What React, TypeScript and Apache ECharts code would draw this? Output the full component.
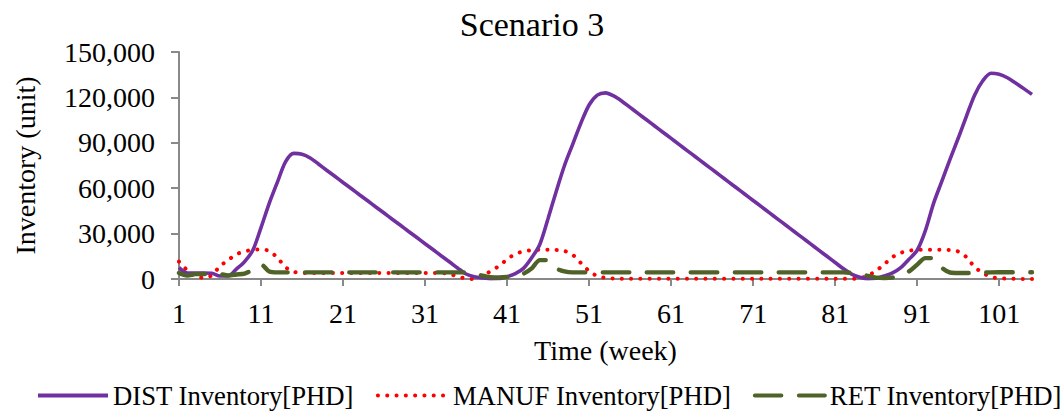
import React, { useEffect, useRef } from "react";
import * as echarts from "echarts";

// Week categories 1..105
const weeks: string[] = Array.from({ length: 105 }, (_, i) => String(i + 1));

// Values, in thousands of units
const distK: number[] = [
  7.5, 4, 4, 4, 3.8, 2, 2, 6.5, 11.5, 19,
  34, 50, 64, 77.5, 83, 82.5, 80, 76, 71.9, 67.9,
  63.8, 59.8, 55.7, 51.7, 47.6, 43.6, 39.5, 35.5, 31.4, 27.4,
  23.3, 19.3, 15.2, 11.2, 7.1, 3.3, 1.5, 0.7, 0.2, 0.3,
  1.5, 3.5, 7, 14, 23, 40, 58, 75, 89, 103,
  115, 121.5, 123, 121, 117.5, 113.4, 109.3, 105.2, 101.1, 97,
  92.9, 88.8, 84.7, 80.6, 76.5, 72.4, 68.3, 64.2, 60.1, 56,
  51.9, 47.8, 43.7, 39.6, 35.5, 31.4, 27.3, 23.2, 19.1, 15,
  10.9, 6.8, 3.2, 1.2, 0.2, 0.5, 2, 4, 7.5, 13,
  19, 32, 50, 64.5, 79, 93, 107.5, 121.5, 131, 136,
  135.3, 133, 129.5, 125.8, 122,
];

const manufK: number[] = [
  11.5, 5.8, 2, 0.8, 2.5, 8.5, 12.5, 16.3, 18.2, 19.3,
  19.5, 18.5, 14, 7.8, 4.8, 4.1, 4, 4, 4, 4,
  4, 4, 4, 4, 4, 4, 4, 4, 4, 4,
  4, 4, 4, 3.2, 1.6, 0.3, 0, 1.8, 5.3, 8.5,
  13, 16.5, 18.2, 19, 19.4, 19.4, 19.2, 18.5, 16, 10.5,
  5.3, 1.9, 0.8, 0.3, 0.2, 0.2, 0.2, 0.2, 0.2, 0.2,
  0.2, 0.2, 0.2, 0.2, 0.2, 0.2, 0.2, 0.2, 0.2, 0.2,
  0.2, 0.2, 0.2, 0.2, 0.2, 0.2, 0.2, 0.2, 0.2, 0.2,
  0.2, 0.2, 0.2, 0.6, 2.2, 5.5, 9.8, 14.5, 17.3, 18.7,
  19.2, 19.4, 19.4, 19.4, 19.1, 18.2, 14.5, 8, 4, 1.3,
  0.6, 0.2, 0.1, 0, 0,
];

const retK: number[] = [
  4, 2.3, 3.2, 3.3, 3.3, 3.2, 2.4, 3, 3.6, 6,
  9.5, 5, 4.4, 4.4, 4.4, 4.4, 4.4, 4.4, 4.4, 4.4,
  4.4, 4.4, 4.4, 4.4, 4.4, 4.4, 4.4, 4.4, 4.4, 4.4,
  4.4, 4.4, 4.4, 4.4, 4.4, 4.4, 3.8, 2.2, 1.2, 1,
  1.3, 2.2, 3.5, 7, 12.5, 12.5, 7, 5, 4.4, 4.4,
  4.4, 4.4, 4.4, 4.4, 4.4, 4.4, 4.4, 4.4, 4.4, 4.4,
  4.4, 4.4, 4.4, 4.4, 4.4, 4.4, 4.4, 4.4, 4.4, 4.4,
  4.4, 4.4, 4.4, 4.4, 4.4, 4.4, 4.4, 4.4, 4.4, 4.4,
  4.4, 4.4, 4, 3.4, 2, 0.9, 0.7, 1, 2.5, 5,
  9.5, 13.8, 13.8, 7.5, 4.3, 4, 4, 4, 4.2, 4.4,
  4.5, 4.5, 4.5, 4.5, 4.5,
];

const yTicks = { min: 0, max: 150000, interval: 30000 };

const toUnits = (arr: number[]) => arr.map((v) => Math.round(v * 1000));

const FONT = "Liberation Serif";
const AXIS_COLOR = "#898989";

export default function App() {
  const ref = useRef<HTMLDivElement>(null);

  useEffect(() => {
    if (!ref.current) return;
    const chart = echarts.init(ref.current, undefined, { renderer: "svg" });
    chart.setOption({
      animation: false,
      backgroundColor: "#ffffff",
      title: {
        text: "Scenario 3",
        left: "center",
        top: 2,
        textStyle: { fontFamily: FONT, fontSize: 34, fontWeight: "normal", color: "#000" },
      },
      grid: { left: 179, right: 32, top: 52, bottom: 135 },
      legend: {
        left: 36,
        top: 382,
        width: 1400,
        padding: 0,
        itemWidth: 70,
        itemHeight: 14,
        itemGap: 22,
        itemStyle: { opacity: 0 },
        lineStyle: { width: 4 },
        textStyle: { fontFamily: FONT, fontSize: 26.7, color: "#000" },
        data: ["DIST Inventory[PHD]", "MANUF Inventory[PHD]", "RET Inventory[PHD]"],
      },
      xAxis: {
        type: "category",
        data: weeks,
        boundaryGap: false,
        name: "Time (week)",
        nameLocation: "middle",
        nameGap: 57,
        nameTextStyle: { fontFamily: FONT, fontSize: 28, color: "#000" },
        axisLine: { lineStyle: { color: AXIS_COLOR, width: 2 } },
        axisTick: { interval: 9, length: 7, lineStyle: { color: AXIS_COLOR, width: 2 } },
        axisLabel: { interval: 9, margin: 20, fontFamily: FONT, fontSize: 28, color: "#000" },
        splitLine: { show: false },
      },
      yAxis: {
        type: "value",
        min: yTicks.min,
        max: yTicks.max,
        interval: yTicks.interval,
        name: "Inventory (unit)",
        nameLocation: "middle",
        nameGap: 140,
        nameTextStyle: { fontFamily: FONT, fontSize: 28, color: "#000" },
        axisLine: { show: true, lineStyle: { color: AXIS_COLOR, width: 2 } },
        axisTick: { show: true, length: 8, lineStyle: { color: AXIS_COLOR, width: 2 } },
        axisLabel: {
          margin: 24,
          fontFamily: FONT,
          fontSize: 28,
          color: "#000",
          formatter: (v: number) => v.toLocaleString("en-US"),
        },
        splitLine: { show: false },
      },
      series: [
        {
          name: "DIST Inventory[PHD]",
          type: "line",
          data: toUnits(distK),
          symbol: "none",
          smooth: 0.3,
          z: 3,
          lineStyle: { color: "#7030A0", width: 3.6 },
          itemStyle: { color: "#7030A0" },
        },
        {
          name: "MANUF Inventory[PHD]",
          type: "line",
          data: toUnits(manufK),
          symbol: "none",
          smooth: 0.3,
          z: 2,
          lineStyle: { color: "#FF0000", width: 4, type: [0.1, 9.2], cap: "round" },
          itemStyle: { color: "#FF0000" },
        },
        {
          name: "RET Inventory[PHD]",
          type: "line",
          data: toUnits(retK),
          symbol: "none",
          smooth: 0.3,
          z: 4,
          lineStyle: { color: "#4F6228", width: 4.4, type: [26.5, 17.5], cap: "round" },
          itemStyle: { color: "#4F6228" },
        },
      ],
    });
    return () => chart.dispose();
  }, []);

  return (
    <div
      ref={ref}
      style={{ position: "absolute", left: 0, top: 0, width: 1064, height: 414 }}
    />
  );
}
